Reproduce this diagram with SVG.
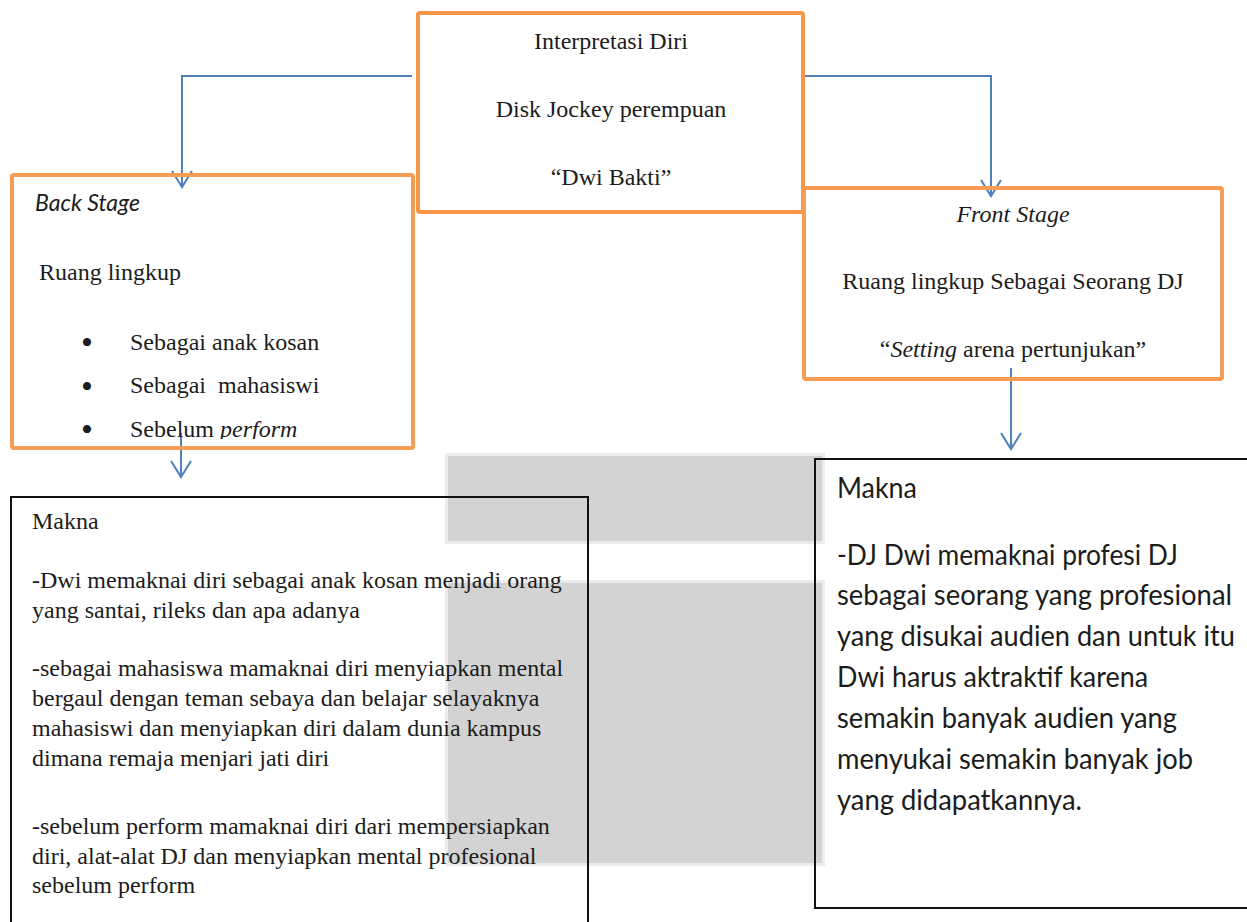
<svg xmlns="http://www.w3.org/2000/svg" width="1247" height="922" viewBox="0 0 1247 922">
<style>
.serif{font-family:"Liberation Serif","Times New Roman",serif;font-size:24px;fill:#1c1c1c}
.sans{font-family:Lato,"Noto Sans",sans-serif;font-size:28px;fill:#1c1c1c}
.it{font-style:italic}
.bul{font-family:"Liberation Serif","Times New Roman",serif;font-size:34px;fill:#1c1c1c;text-anchor:middle}
.orange{fill:none;stroke:#F79646;stroke-width:4}
.stage{fill:none;stroke:#F79C55;stroke-width:4}
.black{fill:none;stroke:#111;stroke-width:2}
.conn{fill:none;stroke:#4F81BD;stroke-width:2}
.mid{text-anchor:middle}
</style>
<defs>
<marker id="arr" markerUnits="userSpaceOnUse" markerWidth="24" markerHeight="24" viewBox="-18 -12 20 24" refX="0" refY="0" orient="auto">
<path d="M-16,-10 L0,0 L-16,10" fill="none" stroke="#4F81BD" stroke-width="2"/>
</marker>
<clipPath id="bsclip"><rect x="14" y="177" width="397" height="262"/></clipPath>
</defs>
<rect width="1247" height="922" fill="#fff"/>
<g id="watermark">
<rect x="445" y="453" width="380" height="91" fill="#ececec"/>
<rect x="448" y="456" width="374" height="85" fill="#d3d3d3"/>
<rect x="445" y="580" width="380" height="286" fill="#ececec"/>
<rect x="448" y="583" width="374" height="280" fill="#d3d3d3"/>
</g>
<g id="connectors">
<path class="conn" d="M412,76 H182 V187" marker-end="url(#arr)"/>
<path class="conn" d="M804,76 H991 V196" marker-end="url(#arr)"/>
<path class="conn" d="M181,433 V477" marker-end="url(#arr)"/>
<path class="conn" d="M1011,368 V449" marker-end="url(#arr)"/>
</g>
<g id="interpretasi">
<rect class="orange" x="418" y="13" width="385" height="199" rx="2"/>
<text class="serif mid" x="611" y="49">Interpretasi Diri</text>
<text class="serif mid" x="611" y="117">Disk Jockey perempuan</text>
<text class="serif mid" x="611" y="185">“Dwi Bakti”</text>
</g>
<g id="backstage">
<rect class="stage" x="12" y="175" width="401" height="273" rx="2"/>
<text class="sans it" x="35" y="211" style="font-size:23px" textLength="105" lengthAdjust="spacingAndGlyphs">Back Stage</text>
<text class="serif" x="39" y="280">Ruang lingkup</text>
<text class="bul" x="87" y="354">•</text>
<text class="serif" x="130" y="350">Sebagai anak kosan</text>
<text class="bul" x="87" y="398">•</text>
<text class="serif" x="130" y="393" xml:space="preserve">Sebagai  mahasiswi</text>
<g clip-path="url(#bsclip)">
<text class="bul" x="87" y="441">•</text>
<text class="serif" x="130" y="437">Sebelum <tspan class="it">perform</tspan></text>
</g>
</g>
<g id="frontstage">
<rect class="stage" x="804" y="188" width="418" height="191" rx="2"/>
<text class="serif it mid" x="1013" y="222">Front Stage</text>
<text class="serif mid" x="1013" y="289">Ruang lingkup Sebagai Seorang DJ</text>
<text class="serif mid" x="1013" y="357">“<tspan class="it">Setting</tspan> arena pertunjukan”</text>
</g>
<g id="makna-left">
<rect class="black" x="11" y="497" width="577" height="445"/>
<text class="serif" x="32" y="529">Makna</text>
<text class="serif" x="32" y="588">-Dwi memaknai diri sebagai anak kosan menjadi orang</text>
<text class="serif" x="32" y="618">yang santai, rileks dan apa adanya</text>
<text class="serif" x="32" y="676">-sebagai mahasiswa mamaknai diri menyiapkan mental</text>
<text class="serif" x="32" y="706">bergaul dengan teman sebaya dan belajar selayaknya</text>
<text class="serif" x="32" y="736">mahasiswi dan menyiapkan diri dalam dunia kampus</text>
<text class="serif" x="32" y="766">dimana remaja menjari jati diri</text>
<text class="serif" x="32" y="834">-sebelum perform mamaknai diri dari mempersiapkan</text>
<text class="serif" x="32" y="864">diri, alat-alat DJ dan menyiapkan mental profesional</text>
<text class="serif" x="32" y="893">sebelum perform</text>
</g>
<g id="makna-right">
<rect class="black" x="815" y="459" width="450" height="449"/>
<text class="sans" x="837" y="498" textLength="80" lengthAdjust="spacingAndGlyphs">Makna</text>
<text class="sans" x="837" y="565" textLength="341" lengthAdjust="spacingAndGlyphs">-DJ Dwi memaknai profesi DJ</text>
<text class="sans" x="837" y="605" textLength="395" lengthAdjust="spacingAndGlyphs">sebagai seorang yang profesional</text>
<text class="sans" x="837" y="646" textLength="398" lengthAdjust="spacingAndGlyphs">yang disukai audien dan untuk itu</text>
<text class="sans" x="837" y="687" textLength="311" lengthAdjust="spacingAndGlyphs">Dwi harus aktraktif karena</text>
<text class="sans" x="837" y="728" textLength="340" lengthAdjust="spacingAndGlyphs">semakin banyak audien yang</text>
<text class="sans" x="837" y="769" textLength="356" lengthAdjust="spacingAndGlyphs">menyukai semakin banyak job</text>
<text class="sans" x="837" y="810" textLength="245" lengthAdjust="spacingAndGlyphs">yang didapatkannya.</text>
</g>
</svg>
